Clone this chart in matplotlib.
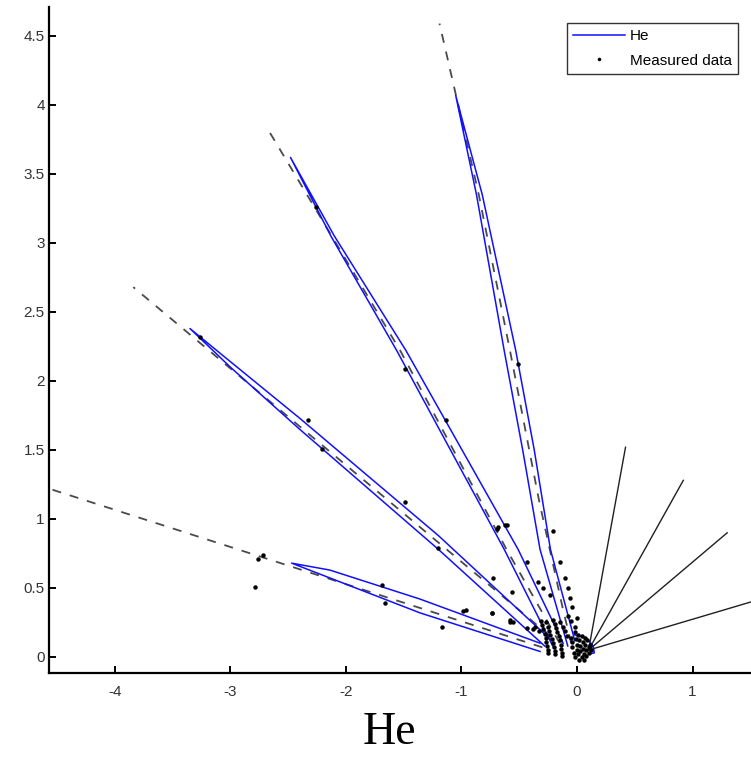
import numpy as np
import matplotlib
matplotlib.use("Agg")
import matplotlib.pyplot as plt

plt.rcParams['font.family'] = ['Liberation Sans', 'DejaVu Sans']
plt.rcParams['axes.unicode_minus'] = False

# theory curves (dashed), each listed from the origin outwards
dash_a_x = [-0.30, -4.57]
dash_a_y = [0.07, 1.22]
dash_b_x = [-0.23, -3.84]
dash_b_y = [0.15, 2.68]
dash_c_x = [-0.15, -0.61, -1.53, -2.68]
dash_c_y = [0.10, 0.78, 2.22, 3.83]
dash_d_x = [-0.05, -0.12, -0.33, -0.58, -0.85, -1.19]
dash_d_y = [0.10, 0.34, 1.14, 2.22, 3.35, 4.59]

# He fits (blue lobes): inner end -> tip -> other inner end
lobe1_x = [-0.32, -1.36, -2.14, -2.47, -2.10, -1.36, -0.32]
lobe1_y = [0.10, 0.42, 0.63, 0.68, 0.56, 0.32, 0.04]
lobe2_x = [-0.22, -1.20, -2.40, -3.00, -3.35, -3.00, -2.40, -1.20, -0.28]
lobe2_y = [0.12, 0.88, 1.73, 2.14, 2.38, 2.10, 1.65, 0.78, 0.08]
lobe3_x = [-0.12, -0.51, -1.48, -2.10, -2.48, -2.13, -1.56, -0.63, -0.21]
lobe3_y = [0.10, 0.78, 2.22, 3.05, 3.62, 3.05, 2.22, 0.78, 0.08]
lobe4_x = [-0.02, -0.23, -0.37, -0.53, -0.82, -1.05, -0.87, -0.63, -0.47, -0.32, -0.08]
lobe4_y = [0.12, 0.78, 1.50, 2.22, 3.35, 4.07, 3.35, 2.22, 1.50, 0.78, 0.08]
loop_x = [-0.02, 0.08, 0.14, 0.15, 0.10]
loop_y = [0.16, 0.14, 0.08, 0.03, 0.02]

# solid black rays on the right
ray_x0 = 0.10
ray_y0 = 0.05
ray_x1 = [0.42, 0.92, 1.30, 1.51]
ray_y1 = [1.52, 1.28, 0.90, 0.40]

# measured data
meas_x = [-2.79, -2.76, -2.72, -1.69, -1.66, -1.17, -0.99, -0.96, -0.74, -0.58,
          -0.55, -0.43, -0.38, -2.33, -2.21, -1.49, -1.20, -1.49, -1.13, -0.61,
          -0.69, -0.51, -0.62, -0.68, -0.21, -0.15, -0.10, -0.08, -0.06, -0.04,
          -0.73, -0.56, -0.43, -0.34, -0.29, -0.23, -0.74, -0.58, -2.26, -3.26,
          -0.31, -0.30, -0.29, -0.28, -0.27, -0.27, -0.26, -0.25, -0.25,
          -0.27, -0.25, -0.24, -0.23, -0.22, -0.21, -0.20, -0.19, -0.19,
          -0.21, -0.19, -0.18, -0.17, -0.16, -0.15, -0.14, -0.14, -0.13, -0.13,
          -0.15, -0.12, -0.10, -0.09, -0.33, -0.36,
          -0.05, -0.04, -0.04, -0.03, -0.02, -0.01, 0.00, 0.00, 0.01, 0.02,
          0.02, 0.03, 0.03, 0.04, 0.05, 0.05, 0.06, 0.06, 0.07, 0.08,
          0.08, 0.09, 0.10, 0.10, 0.11, 0.12, 0.01, 0.04, -0.02, 0.07,
          -0.08, -0.05, -0.02, 0.00]
meas_y = [0.51, 0.71, 0.74, 0.52, 0.39, 0.22, 0.33, 0.34, 0.32, 0.25,
          0.25, 0.21, 0.20, 1.72, 1.51, 1.12, 0.79, 2.09, 1.72, 0.96,
          0.93, 2.12, 0.96, 0.94, 0.91, 0.69, 0.57, 0.50, 0.43, 0.36,
          0.57, 0.47, 0.69, 0.54, 0.50, 0.45, 0.32, 0.27, 3.26, 2.32,
          0.26, 0.23, 0.20, 0.17, 0.14, 0.11, 0.08, 0.05, 0.03,
          0.25, 0.22, 0.19, 0.16, 0.13, 0.10, 0.07, 0.04, 0.02,
          0.27, 0.24, 0.21, 0.18, 0.15, 0.12, 0.09, 0.06, 0.03, 0.01,
          0.25, 0.22, 0.19, 0.15, 0.19, 0.22,
          0.14, 0.11, 0.07, 0.03, 0.00, 0.13, 0.09, 0.05, 0.02, -0.02,
          0.12, 0.08, 0.04, 0.00, 0.11, 0.06, 0.02, -0.02, 0.09, 0.05,
          0.01, 0.12, 0.07, 0.03, 0.09, 0.05, 0.16, 0.15, 0.18, 0.14,
          0.30, 0.26, 0.22, 0.28]

fig = plt.figure(figsize=(7.51, 7.57), dpi=100)
ax = fig.add_axes([49/751, 84/757, 702/751, 666/757])

dash_kw = dict(color='#4a4a4a', linestyle=(0, (5, 5)), linewidth=1.3)
for dx, dy in [(dash_a_x, dash_a_y), (dash_b_x, dash_b_y), (dash_c_x, dash_c_y), (dash_d_x, dash_d_y)]:
    ax.plot(dx, dy, **dash_kw)

for i in range(len(ray_x1)):
    ax.plot([ray_x0, ray_x1[i]], [ray_y0, ray_y1[i]], color='#202020', linewidth=1.0)

blue = '#1010ff'
ax.plot(lobe1_x, lobe1_y, color=blue, linewidth=1.1, label='He')
for lx, ly in [(lobe2_x, lobe2_y), (lobe3_x, lobe3_y), (lobe4_x, lobe4_y), (loop_x, loop_y)]:
    ax.plot(lx, ly, color=blue, linewidth=1.1)

ax.plot(meas_x, meas_y, linestyle='none', marker='o', markersize=3.2, color='k',
        markeredgewidth=0, label='Measured data')

ax.set_xlim(-4.57, 1.506)
ax.set_ylim(-0.116, 4.71)
ax.set_xticks([-4, -3, -2, -1, 0, 1])
ax.set_yticks(np.arange(0, 4.6, 0.5))
ax.set_yticklabels(['0', '0.5', '1', '1.5', '2', '2.5', '3', '3.5', '4', '4.5'])
ax.spines['top'].set_visible(False)
ax.spines['right'].set_visible(False)
for s in ['left', 'bottom']:
    ax.spines[s].set_linewidth(1.6)
ax.tick_params(direction='in', length=5, width=1.4, labelsize=11, labelcolor='#333333')
ax.tick_params(axis='x', pad=9)
ax.tick_params(axis='y', pad=3)

leg = ax.legend(loc='upper right', fontsize=11, frameon=True, fancybox=False,
                handlelength=3.4, borderpad=0.4, labelspacing=0.69, handletextpad=0.3,
                borderaxespad=0.0, markerscale=0.8)
leg.get_frame().set_edgecolor('k')
leg.get_frame().set_linewidth(1.0)
leg.set_bbox_to_anchor((738/751, 1 - 23/757), transform=fig.transFigure)

fig.text(389/751, 1 - 733/757, 'He', family='Liberation Serif', fontsize=33,
         ha='center', va='center')

fig.savefig('out.png', dpi=100)
